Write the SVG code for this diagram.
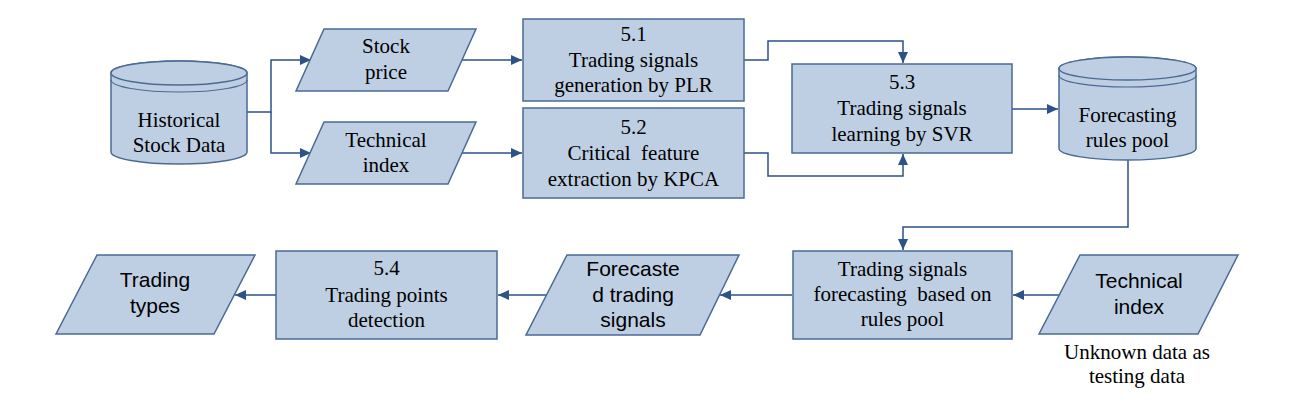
<svg xmlns="http://www.w3.org/2000/svg" width="1312" height="408" viewBox="0 0 1312 408">
<defs>
<style>
.shape{fill:#bfcfe3;stroke:#4a6a96;stroke-width:1.5}
.line{fill:none;stroke:#4a6a96;stroke-width:1.2}
.conn{fill:none;stroke:#2c5288;stroke-width:1.5}
.serif{font-family:"Liberation Serif","Times New Roman",serif;font-size:21px;fill:#000;text-anchor:middle}
.sans{font-family:"Liberation Sans",Arial,sans-serif;font-size:21px;fill:#000;text-anchor:middle}
.pre{white-space:pre}
</style>
<marker id="arr" markerUnits="userSpaceOnUse" markerWidth="12" markerHeight="12" viewBox="0 0 12 12" refX="11" refY="6" orient="auto">
<path d="M0,1 L11,6 L0,11 Z" fill="#2c5288"/>
</marker>
</defs>
<rect width="1312" height="408" fill="#fff"/>

<g id="connectors">
<path class="conn" d="M247,112 H271 V60 H311" marker-end="url(#arr)"/>
<path class="conn" d="M271,112 V153 H311" marker-end="url(#arr)"/>
<path class="conn" d="M462,60 H522" marker-end="url(#arr)"/>
<path class="conn" d="M462,153 H522" marker-end="url(#arr)"/>
<path class="conn" d="M744,60 H768 V41 H903 V63" marker-end="url(#arr)"/>
<path class="conn" d="M744,153 H768 V176 H903 V154" marker-end="url(#arr)"/>
<path class="conn" d="M1012,109 H1058" marker-end="url(#arr)"/>
<path class="conn" d="M1128,160 V227 H903 V250" marker-end="url(#arr)"/>
<path class="conn" d="M1059,295 H1013" marker-end="url(#arr)"/>
<path class="conn" d="M792,295 H720" marker-end="url(#arr)"/>
<path class="conn" d="M546,295 H498" marker-end="url(#arr)"/>
<path class="conn" d="M276,295 H235" marker-end="url(#arr)"/>
</g>

<g id="historical">
<path class="shape" d="M111,73 V152 A68,12 0 0 0 247,152 V73 A68,12 0 0 0 111,73 Z"/>
<ellipse class="shape" cx="179" cy="73" rx="68" ry="12"/>
<path class="line" d="M111,80 A68,12 0 0 0 247,80"/>
<text class="serif" x="179" y="127">Historical</text>
<text class="serif" x="179" y="152">Stock Data</text>
</g>

<g id="stock-price">
<polygon class="shape" points="324,29 476,29 448,91 296,91"/>
<text class="serif" x="386" y="53">Stock</text>
<text class="serif" x="386" y="79">price</text>
</g>

<g id="technical-index-top">
<polygon class="shape" points="324,122 476,122 448,184 296,184"/>
<text class="serif" x="386" y="147">Technical</text>
<text class="serif" x="386" y="172">index</text>
</g>

<g id="box-5-1">
<rect class="shape" x="523" y="19" width="221" height="82"/>
<text class="serif" x="633.5" y="41">5.1</text>
<text class="serif" x="633.5" y="67">Trading signals</text>
<text class="serif" x="633.5" y="92">generation by PLR</text>
</g>

<g id="box-5-2">
<rect class="shape" x="523" y="108" width="221" height="90"/>
<text class="serif" x="633.5" y="134">5.2</text>
<text class="serif pre" x="633.5" y="160">Critical  feature</text>
<text class="serif" x="633.5" y="186">extraction by KPCA</text>
</g>

<g id="box-5-3">
<rect class="shape" x="792" y="64" width="220" height="89"/>
<text class="serif" x="902" y="89">5.3</text>
<text class="serif" x="902" y="115">Trading signals</text>
<text class="serif" x="902" y="141">learning by SVR</text>
</g>

<g id="rules-pool">
<path class="shape" d="M1059,68.5 V148.5 A68.5,11.5 0 0 0 1196,148.5 V68.5 A68.5,11.5 0 0 0 1059,68.5 Z"/>
<ellipse class="shape" cx="1127.5" cy="68.5" rx="68.5" ry="11.5"/>
<path class="line" d="M1059,75.5 A68.5,11.5 0 0 0 1196,75.5"/>
<text class="serif" x="1127.5" y="122">Forecasting</text>
<text class="serif" x="1127.5" y="147">rules pool</text>
</g>

<g id="forecasting-box">
<rect class="shape" x="793" y="251" width="219" height="88"/>
<text class="serif" x="902.5" y="276">Trading signals</text>
<text class="serif pre" x="902.5" y="301">forecasting  based on</text>
<text class="serif" x="902.5" y="326">rules pool</text>
</g>

<g id="technical-index-bottom">
<polygon class="shape" points="1080,255 1238,255 1198,334 1039,334"/>
<text class="sans" x="1139" y="288">Technical</text>
<text class="sans" x="1139" y="314">index</text>
</g>

<g id="unknown-note">
<text class="serif" x="1137" y="359">Unknown data as</text>
<text class="serif" x="1137" y="383">testing data</text>
</g>

<g id="forecasted-signals">
<polygon class="shape" points="567,255 739,255 700,335 526,335"/>
<text class="sans" x="633" y="276">Forecaste</text>
<text class="sans" x="633" y="302">d trading</text>
<text class="sans" x="633" y="327">signals</text>
</g>

<g id="box-5-4">
<rect class="shape" x="276" y="251" width="221" height="88"/>
<text class="serif" x="386.5" y="275">5.4</text>
<text class="serif" x="386.5" y="302">Trading points</text>
<text class="serif" x="386.5" y="327">detection</text>
</g>

<g id="trading-types">
<polygon class="shape" points="97,255 255,255 214,334 56,334"/>
<text class="sans" x="155" y="287">Trading</text>
<text class="sans" x="155" y="313">types</text>
</g>
</svg>
